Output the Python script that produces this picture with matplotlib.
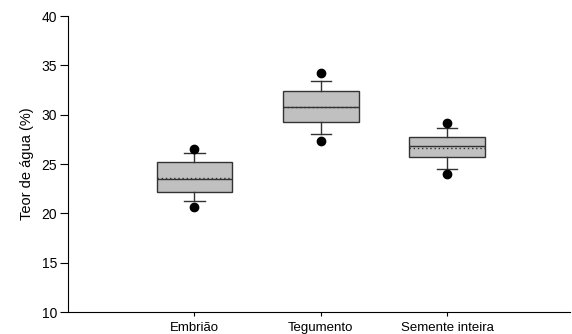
import matplotlib
matplotlib.use('Agg')
import matplotlib.pyplot as plt

plt.rcParams['font.family'] = ['Liberation Sans', 'DejaVu Sans']

# ---- data
groups = ['Embrião', 'Tegumento', 'Semente inteira']
q1 = [22.2, 29.3, 25.7]
q3 = [25.2, 32.4, 27.7]
medians = [23.45, 30.8, 26.8]
means = [23.6, 30.8, 26.65]
whisk_lo = [21.25, 28.0, 24.5]
whisk_hi = [26.1, 33.45, 28.6]
outliers = [[20.65, 26.5], [27.35, 34.2], [24.0, 29.15]]

stats = []
for i in range(len(groups)):
    stats.append({'label': groups[i], 'q1': q1[i], 'q3': q3[i], 'med': medians[i],
                  'mean': means[i], 'whislo': whisk_lo[i], 'whishi': whisk_hi[i],
                  'fliers': outliers[i]})

fig = plt.figure(figsize=(5.72, 3.34), dpi=100)
ax = fig.add_axes([68 / 572, 1 - 312 / 334, 502 / 572, 296 / 334])

line_c = '#333333'
ax.bxp(stats, positions=[1, 2, 3], widths=0.6, capwidths=0.16,
       patch_artist=True, showmeans=True, meanline=True,
       boxprops=dict(facecolor='#c0c0c0', edgecolor=line_c, linewidth=1.0),
       medianprops=dict(color=line_c, linewidth=1.0),
       meanprops=dict(color=line_c, linestyle=(0, (1, 2)), linewidth=1.0),
       whiskerprops=dict(color=line_c, linewidth=1.0),
       capprops=dict(color=line_c, linewidth=1.0),
       flierprops=dict(marker='o', markerfacecolor='black', markeredgecolor='black',
                       markersize=6))

ax.set_xlim(0, 3.97)
ax.set_ylim(10, 40)
ax.set_yticks([10, 15, 20, 25, 30, 35, 40])
ax.set_xticks([1, 2, 3])
ax.set_xticklabels(groups, fontsize=9.5)
ax.tick_params(axis='y', labelsize=10, length=6, width=0.8, direction='out', pad=2)
ax.tick_params(axis='x', length=3, width=0.8, direction='out', pad=4)
ax.set_ylabel('Teor de água (%)', fontsize=10.5, labelpad=5)

ax.spines['top'].set_visible(False)
ax.spines['right'].set_visible(False)
ax.spines['left'].set_linewidth(0.8)
ax.spines['bottom'].set_linewidth(0.8)

fig.savefig('out.png', dpi=100)
